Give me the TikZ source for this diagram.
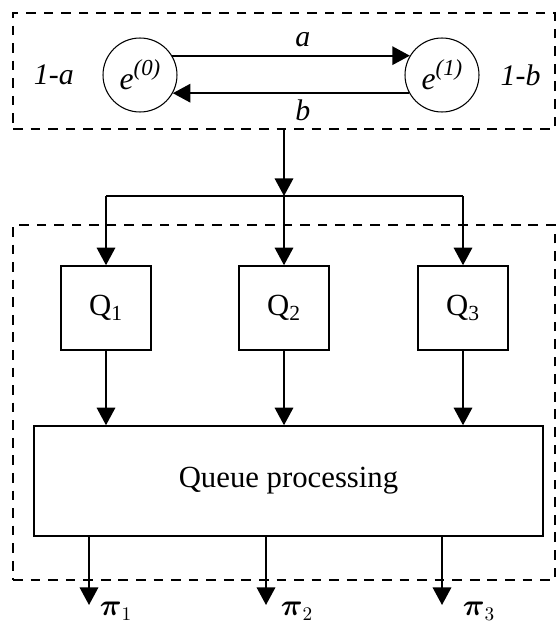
\documentclass[tikz,border=0pt]{standalone}
\usepackage{amsmath,amssymb}
\usepackage{fontspec}
\setmainfont{Liberation Serif}
\usetikzlibrary{arrows.meta,positioning}

\newcommand{\estate}[1]{\fontsize{18}{20}\selectfont\textit{e}\raisebox{0.45em}{\fontsize{13}{15}\selectfont\textit{(#1)}}}

\tikzset{
	frame/.style={draw, dash pattern=on 5.5pt off 4.5pt, line width=1.3pt, inner sep=0pt},
	state/.style={draw, circle, line width=0.6pt, minimum size=1.48cm, inner sep=0pt},
	queue/.style={draw, line width=0.9pt, minimum width=1.8cm, minimum height=1.68cm, inner sep=0pt, font=\fontsize{17.5}{20}\selectfont},
	flow/.style={->, line width=1.1pt},
	lbl/.style={font=\fontsize{17}{20}\selectfont\itshape},
	outlbl/.style={font=\fontsize{16}{18}\selectfont, inner sep=1pt},
}

\begin{document}
\begin{tikzpicture}[x=0.02cm, y=-0.02cm, >={Triangle[length=10pt,width=10.5pt]}]
	\useasboundingbox (0,0) rectangle (557,625);
	
	% two states
	\node[frame, minimum width=10.84cm, minimum height=2.32cm] (top) at (284,71) {};
	\node[state] (e0) at (140,75) {\estate{0}};
	\node[state] (e1) at (442,75) {\estate{1}};
	\node[lbl, left=0.45cm of e0] (la1) {1-a};
	\node[lbl, right=0.3cm of e1] (lb1) {1-b};
	\draw[flow] (e0.31) -- node[lbl, above=1pt, pos=0.55] (la) {a} (e1.149);
	\draw[flow] (e1.209) -- node[lbl, below=0pt, pos=0.45] (lb) {b} (e0.-29);
	
	% queues
	\node[frame, minimum width=10.84cm, minimum height=7.1cm] (bot) at (284,402.5) {};
	\node[queue] (q1) at (106,308) {Q\textsubscript{1}};
	\node[queue] (q2) at (284,308) {Q\textsubscript{2}};
	\node[queue] (q3) at (463,308) {Q\textsubscript{3}};
	\node[draw, line width=0.9pt, minimum width=10.18cm, minimum height=2.2cm, font=\fontsize{17.5}{20}\selectfont] (qp) at (288.5,481) {Queue processing};
	
	\coordinate (split) at (284,196);
	\draw[flow] (top.south) -- (split);
	\draw[line width=1.1pt] (q1 |- split) -- (q3 |- split);
	\foreach \q in {q1,q2,q3} {
		\draw[flow] (\q |- split) -- (\q.north);
		\draw[flow] (\q.south) -- (\q.south |- qp.north);
	}
	
	% outputs
	\coordinate (o1) at (89,605);
	\coordinate (o2) at (266,605);
	\coordinate (o3) at (442,605);
	\foreach \i in {1,2,3}
		\draw[flow] (o\i |- qp.south) -- (o\i);
	\node[outlbl] (pi1) at (116,611) {$\boldsymbol{\pi}_1$};
	\node[outlbl] (pi2) at (297,611) {$\boldsymbol{\pi}_2$};
	\node[outlbl] (pi3) at (479,611) {$\boldsymbol{\pi}_3$};
	
\end{tikzpicture}
\end{document}
